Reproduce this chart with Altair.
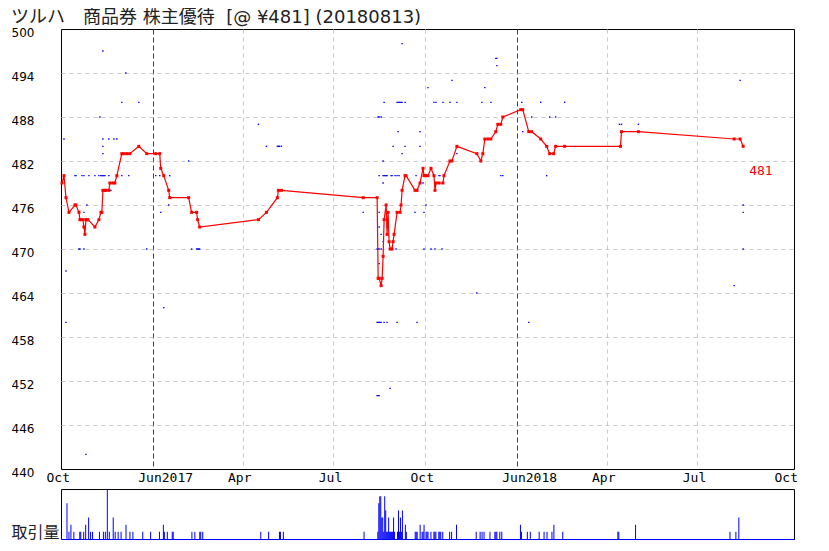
import altair as alt
import pandas as pd

TITLE = "ツルハ\u3000商品券 株主優待 \u00a0[@ ¥481] (20180813)"
LAST_LABEL = 481

PRICE_DATES = [
    "2016-10-02", "2016-10-04", "2016-10-06", "2016-10-09", "2016-10-15", "2016-10-16",
    "2016-10-19", "2016-10-20", "2016-10-21", "2016-10-23", "2016-10-24", "2016-10-25",
    "2016-10-26", "2016-10-27", "2016-10-28", "2016-11-04", "2016-11-08", "2016-11-10",
    "2016-11-11", "2016-11-12", "2016-11-14", "2016-11-15", "2016-11-18", "2016-11-19",
    "2016-11-22", "2016-11-24", "2016-11-26", "2016-12-01", "2016-12-03", "2016-12-06",
    "2016-12-09", "2016-12-18", "2016-12-26",
    "2017-01-04", "2017-01-08", "2017-01-09", "2017-01-12", "2017-01-17", "2017-01-18",
    "2017-02-06", "2017-02-09", "2017-02-14", "2017-02-15", "2017-02-17", "2017-04-17",
    "2017-04-25", "2017-05-06", "2017-05-07", "2017-05-10", "2017-07-31", "2017-08-14",
    "2017-08-15", "2017-08-16", "2017-08-18", "2017-08-19", "2017-08-20", "2017-08-21",
    "2017-08-23", "2017-08-24", "2017-08-25", "2017-08-26", "2017-08-27", "2017-08-29",
    "2017-08-30", "2017-08-31", "2017-09-03", "2017-09-06", "2017-09-07", "2017-09-08",
    "2017-09-11", "2017-09-12", "2017-09-21", "2017-09-23", "2017-09-26", "2017-09-29",
    "2017-09-30", "2017-10-02", "2017-10-04", "2017-10-07", "2017-10-10", "2017-10-11",
    "2017-10-12", "2017-10-15", "2017-10-19", "2017-10-20", "2017-10-26", "2017-10-28",
    "2017-11-02", "2017-11-22", "2017-11-26", "2017-11-28", "2017-11-30", "2017-12-03",
    "2017-12-06", "2017-12-11", "2017-12-13", "2017-12-16", "2017-12-18",
    "2018-01-05", "2018-01-07", "2018-01-13", "2018-01-16", "2018-01-25", "2018-01-31",
    "2018-02-03", "2018-02-07", "2018-02-09", "2018-02-18", "2018-04-15", "2018-04-16",
    "2018-05-03", "2018-08-07", "2018-08-13", "2018-08-16",
]
PRICE_VALUES = [
    479, 480, 477, 475, 476, 476,
    475, 474, 474, 474, 473, 472,
    474, 474, 474, 473, 474, 475,
    475, 478, 478, 478, 478, 479,
    479, 479, 480, 483, 483, 483,
    483, 484, 483,
    483, 483, 481, 480, 478, 477,
    477, 475, 475, 474, 473, 474,
    475, 477, 478, 478, 477, 477,
    466, 466, 465, 466, 469, 474,
    476, 472, 475, 471, 470, 470,
    471, 472, 475, 475, 476, 478,
    480, 480, 478, 478, 479, 481,
    480, 480, 480, 481, 480, 478,
    479, 479, 479, 480, 482, 482,
    484, 483, 482, 483, 485, 485,
    485, 486, 487, 487, 488,
    489, 489, 486, 486, 485, 484,
    483, 483, 484, 484, 484, 486,
    486, 485, 485, 484,
]

TRADE_DATES = [
    "2016-10-04", "2016-10-06", "2016-10-06", "2016-10-15", "2016-10-16", "2016-10-19",
    "2016-10-20", "2016-10-22", "2016-10-24", "2016-10-24", "2016-10-24", "2016-10-26",
    "2016-10-27", "2016-10-29", "2016-11-04", "2016-11-08", "2016-11-09", "2016-11-10",
    "2016-11-11", "2016-11-12", "2016-11-12", "2016-11-12", "2016-11-12", "2016-11-12",
    "2016-11-13", "2016-11-14", "2016-11-18", "2016-11-18", "2016-11-20", "2016-11-23",
    "2016-11-26", "2016-12-01", "2016-12-01", "2016-12-05", "2016-12-08", "2016-12-18",
    "2016-12-26", "2017-01-04", "2017-01-08", "2017-01-09", "2017-01-12", "2017-01-17",
    "2017-01-18", "2017-02-06", "2017-02-09", "2017-02-14", "2017-02-15", "2017-02-16",
    "2017-02-17", "2017-04-17", "2017-04-25", "2017-05-06", "2017-05-07", "2017-05-08",
    "2017-05-10", "2017-07-31", "2017-08-14", "2017-08-14", "2017-08-14", "2017-08-15",
    "2017-08-15", "2017-08-15", "2017-08-15", "2017-08-16", "2017-08-16", "2017-08-16",
    "2017-08-16", "2017-08-16", "2017-08-16", "2017-08-16", "2017-08-16", "2017-08-17",
    "2017-08-18", "2017-08-18", "2017-08-18", "2017-08-18", "2017-08-20", "2017-08-20",
    "2017-08-20", "2017-08-20", "2017-08-21", "2017-08-21", "2017-08-21", "2017-08-22",
    "2017-08-23", "2017-08-24", "2017-08-24", "2017-08-24", "2017-08-27", "2017-08-28",
    "2017-08-29", "2017-08-30", "2017-09-01", "2017-09-02", "2017-09-03", "2017-09-03",
    "2017-09-03", "2017-09-04", "2017-09-04", "2017-09-05", "2017-09-05", "2017-09-06",
    "2017-09-07", "2017-09-08", "2017-09-08", "2017-09-08", "2017-09-11", "2017-09-11",
    "2017-09-21", "2017-09-22", "2017-09-23", "2017-09-26", "2017-09-26", "2017-09-29",
    "2017-09-30", "2017-09-30", "2017-10-02", "2017-10-04", "2017-10-07", "2017-10-10",
    "2017-10-11", "2017-10-12", "2017-10-15", "2017-10-16", "2017-10-18", "2017-10-19",
    "2017-10-26", "2017-10-28", "2017-11-02", "2017-11-02", "2017-11-22", "2017-11-27",
    "2017-11-30", "2017-12-06", "2017-12-11", "2017-12-12", "2017-12-12", "2017-12-16",
    "2017-12-18", "2018-01-06", "2018-01-07", "2018-01-13", "2018-01-16", "2018-01-25",
    "2018-01-31", "2018-02-03", "2018-02-09", "2018-02-18", "2018-04-14", "2018-04-16",
    "2018-05-03", "2018-08-07", "2018-08-13", "2018-08-16", "2018-08-16", "2018-08-16",
]
TRADE_PRICES = [
    485, 467, 460, 480, 480, 470,
    470, 480, 480, 475, 470, 442,
    476, 480, 480, 480, 488, 480,
    480, 497, 485, 484, 483, 480,
    480, 480, 485, 480, 478, 485,
    485, 490, 480, 494, 480, 490,
    470, 480, 480, 475, 462, 476,
    480, 482, 470, 470, 470, 470,
    470, 487, 484, 484, 484, 484,
    484, 475, 470, 460, 450, 488,
    470, 460, 450, 488, 480, 475,
    473, 470, 468, 460, 450, 460,
    488, 472, 470, 460, 482, 480,
    479, 471, 490, 480, 460, 480,
    480, 480, 473, 460, 451, 480,
    480, 484, 480, 470, 490, 480,
    460, 490, 486, 490, 480, 490,
    490, 498, 490, 483, 490, 484,
    475, 480, 460, 486, 484, 479,
    475, 470, 476, 492, 470, 490,
    470, 490, 480, 480, 470, 490,
    490, 493, 490, 483, 464, 490,
    492, 490, 496, 496, 495, 480,
    480, 490, 486, 460, 488, 490,
    480, 488, 488, 490, 487, 487,
    487, 465, 493, 476, 475, 470,
]

VOL_DATES = [
    "2016-10-02", "2016-10-04", "2016-10-06", "2016-10-09", "2016-10-15", "2016-10-16",
    "2016-10-19", "2016-10-21", "2016-10-24", "2016-10-26", "2016-10-28", "2016-11-04",
    "2016-11-08", "2016-11-10", "2016-11-12", "2016-11-14", "2016-11-18", "2016-11-20",
    "2016-11-23", "2016-11-26", "2016-12-01", "2016-12-05", "2016-12-08", "2016-12-18",
    "2016-12-26", "2017-01-04", "2017-01-08", "2017-01-09", "2017-01-12", "2017-01-17",
    "2017-01-18", "2017-02-06", "2017-02-09", "2017-02-14", "2017-02-15", "2017-02-17",
    "2017-04-17", "2017-04-25", "2017-05-06", "2017-05-07", "2017-05-10", "2017-07-31",
    "2017-08-14", "2017-08-15", "2017-08-16", "2017-08-17", "2017-08-18", "2017-08-19",
    "2017-08-20", "2017-08-21", "2017-08-22", "2017-08-23", "2017-08-24", "2017-08-25",
    "2017-08-26", "2017-08-27", "2017-08-28", "2017-08-29", "2017-08-30", "2017-08-31",
    "2017-09-03", "2017-09-04", "2017-09-05", "2017-09-06", "2017-09-07", "2017-09-08",
    "2017-09-11", "2017-09-12", "2017-09-21", "2017-09-22", "2017-09-23", "2017-09-26",
    "2017-09-28", "2017-09-29", "2017-09-30", "2017-10-02", "2017-10-03", "2017-10-04",
    "2017-10-07", "2017-10-10", "2017-10-11", "2017-10-12", "2017-10-15", "2017-10-16",
    "2017-10-17", "2017-10-19", "2017-10-26", "2017-10-28", "2017-11-02", "2017-11-22",
    "2017-11-26", "2017-11-28", "2017-11-30", "2017-12-06", "2017-12-11", "2017-12-12",
    "2017-12-13", "2017-12-16", "2017-12-18", "2018-01-06", "2018-01-07", "2018-01-13",
    "2018-01-16", "2018-01-25", "2018-01-30", "2018-02-02", "2018-02-07", "2018-02-09",
    "2018-02-18", "2018-04-15", "2018-04-16", "2018-05-03", "2018-08-07", "2018-08-13",
    "2018-08-16",
]
VOL_COUNTS = [
    5, 1, 2, 1, 1, 1,
    1, 2, 3, 1, 1, 1,
    1, 1, 7, 1, 3, 1,
    1, 1, 2, 1, 1, 1,
    1, 1, 2, 1, 1, 1,
    1, 1, 1, 1, 1, 1,
    1, 1, 1, 1, 1, 1,
    1, 5, 6, 6, 3, 3,
    1, 6, 4, 1, 1, 3,
    1, 1, 1, 1, 3, 1,
    1, 4, 1, 3, 1, 4,
    2, 1, 1, 1, 1, 2,
    1, 1, 2, 1, 1, 1,
    1, 1, 1, 1, 1, 1,
    1, 1, 1, 1, 2, 1,
    1, 1, 1, 1, 1, 1,
    1, 1, 1, 2, 1, 1,
    1, 1, 1, 1, 1, 2,
    1, 1, 1, 2, 1, 1,
    3,
]

Y_TICKS = [440, 446, 452, 458, 464, 470, 476, 482, 488, 494, 500]
X_TICK_MONTHS = [(2016, 10), (2017, 1), (2017, 4), (2017, 7), (2017, 10),
                 (2018, 1), (2018, 4), (2018, 7), (2018, 10)]

price_df = pd.DataFrame({"date": PRICE_DATES, "price": PRICE_VALUES})
trade_df = pd.DataFrame({"date": TRADE_DATES, "price": TRADE_PRICES})
vol_df = pd.DataFrame({"date": VOL_DATES, "count": VOL_COUNTS})
label_df = pd.DataFrame({"date": [PRICE_DATES[-1]], "price": [LAST_LABEL],
                         "text": [str(LAST_LABEL)]})

x_domain = [alt.DateTime(year=2016, month=10, date=1, utc=True),
            alt.DateTime(year=2018, month=10, date=6, utc=True)]
x_ticks = [alt.DateTime(year=y, month=m, date=1, utc=True) for y, m in X_TICK_MONTHS]
x_scale = alt.Scale(type="utc", domain=x_domain)
y_scale = alt.Scale(domain=[440, 500], nice=False, zero=False)

jan_test = "utcmonth(datum.value)==0"
x_axis = alt.Axis(
    values=x_ticks, title=None, ticks=False, tickSize=0, domain=False,
    labelExpr="utcmonth(datum.value)==0 ? 'Jun' + utcyear(datum.value) : utcFormat(datum.value, '%b')",
    labelAlign="left", labelOffset=-15, labelBaseline="top", labelPadding=2,
    labelFont="DejaVu Sans Mono", labelFontSize=13, labelColor="black",
    labelFlush=False, labelOverlap=False,
    grid=True,
    gridColor={"condition": {"test": jan_test, "value": "#dd0000"}, "value": "#c8c8c8"},
    gridDash={"condition": {"test": jan_test, "value": [5, 3]}, "value": [4, 4]},
    gridOpacity={"condition": {"test": "utcmonth(datum.value)==9 && utcyear(datum.value)!=2017",
                               "value": 0}, "value": 1},
)
y_axis = alt.Axis(
    values=Y_TICKS, title=None, ticks=False, tickSize=0, domain=False,
    labelFont="DejaVu Sans", labelFontSize=12, labelColor="black",
    labelAlign="left", labelPadding=50, labelOffset=3, labelBaseline="middle",
    grid=True, gridColor="#c8c8c8", gridDash=[4, 4],
    gridOpacity={"condition": {"test": "datum.value==440 || datum.value==500", "value": 0},
                 "value": 1},
)

X = alt.X("date:T", scale=x_scale, axis=x_axis)
Y = alt.Y("price:Q", scale=y_scale, axis=y_axis)

dots = alt.Chart(trade_df).mark_square(size=2, color="#0000ff", opacity=1).encode(x=X, y=Y)
line = alt.Chart(price_df).mark_line(color="#ff0000", strokeWidth=1.2).encode(x=X, y=Y)
pts = alt.Chart(price_df).mark_square(size=9, color="#ff0000", opacity=1).encode(x=X, y=Y)
lab = alt.Chart(label_df).mark_text(
    align="left", baseline="middle", dx=6, dy=3, font="DejaVu Sans Mono",
    fontSize=13, color="#ff0000"
).encode(x=X, y=Y, text="text:N")

main = alt.layer(dots, line, pts, lab).properties(width=733, height=440)

vol = alt.Chart(vol_df).mark_bar(width=1, color="#0000ff").encode(
    x=alt.X("date:T", scale=x_scale,
            axis=alt.Axis(labels=False, ticks=False, title=None, grid=False,
                          domain=True, domainColor="#0000ff", domainWidth=1)),
    y=alt.Y("count:Q", scale=alt.Scale(domain=[0, 7], nice=False),
            axis=alt.Axis(title="取引量", titleAngle=0, titleAlign="left",
                          titleBaseline="alphabetic", titleX=-50, titleY=48,
                          titleFont="Noto Sans CJK JP", titleFontSize=16,
                          titleFontWeight="normal", titleColor="#222222",
                          labels=False, ticks=False, domain=False, grid=False)),
).properties(width=733, height=50)

chart = alt.vconcat(main, vol, spacing=20, bounds="flush").properties(
    title=alt.TitleParams(TITLE, anchor="start", frame="group", dx=-50, offset=-1,
                          font="DejaVu Sans, Noto Sans CJK JP", fontSize=18,
                          fontWeight="normal", color="#222222"),
    padding={"left": 2, "top": 0, "right": 0, "bottom": 0},
).configure_view(stroke="black", strokeWidth=1)

chart.save("out.html", embed_options={"renderer": "svg", "actions": False})
